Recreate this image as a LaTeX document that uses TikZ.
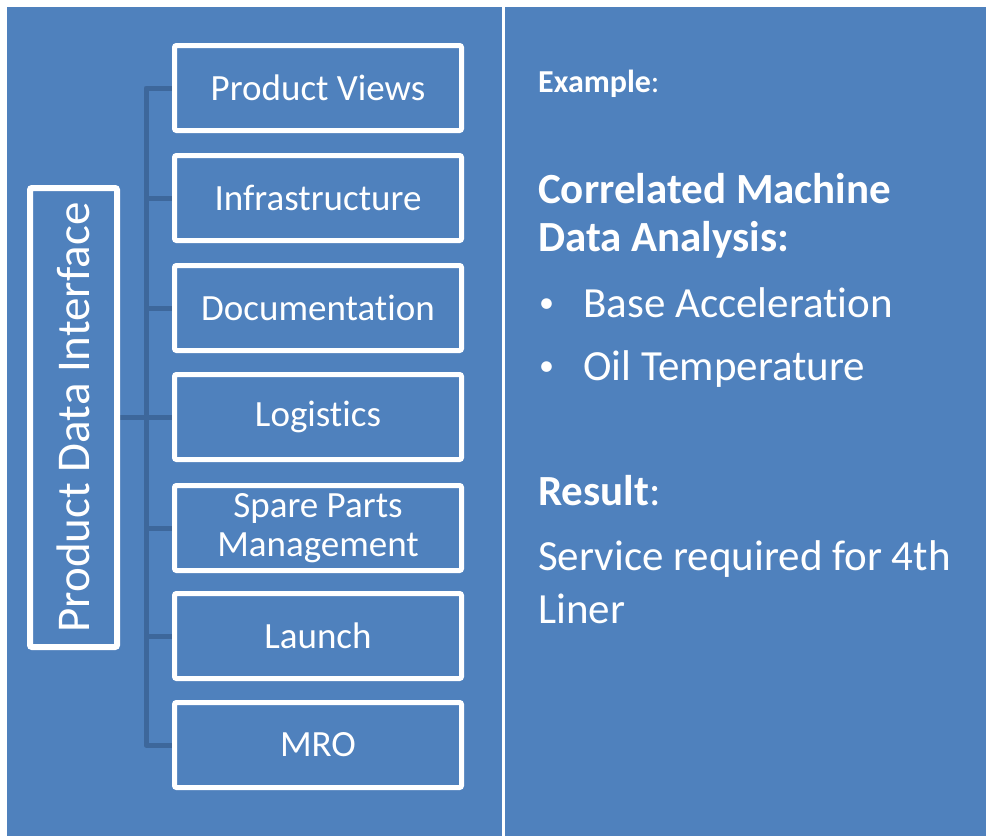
\documentclass[tikz,border=0pt]{standalone}
\usepackage{fontspec}
\setmainfont{Carlito}[RawFeature=-liga]
\pgfdeclarelayer{back}
\pgfdeclarelayer{bg}
\pgfsetlayers{back,bg,main}
\definecolor{panel}{HTML}{4F81BD}
\definecolor{connc}{HTML}{3D679B}
\tikzset{
  box/.style={draw=white, line width=5pt, fill=panel, rounded corners=2pt,
    minimum width=287pt, minimum height=85pt, inner sep=0pt, text=white,
    font=\fontsize{37}{39}\selectfont, align=center},
  pdibox/.style={draw=white, line width=6pt, fill=panel, rounded corners=2pt,
    minimum width=87pt, minimum height=459pt, inner sep=0pt, text=white},
  conn/.style={draw=connc, line width=5pt, line join=round},
  rtext/.style={anchor=base west, inner sep=0pt, text=white, font=\fontsize{43}{52}\selectfont},
}
\begin{document}
\begin{tikzpicture}[x=1pt,y=-1pt]
\useasboundingbox (0,0) rectangle (986,836);
\begin{pgfonlayer}{back}
\fill[white] (0,0) rectangle (986,836);
\fill[panel] (7,7) rectangle (502,836);
\fill[panel] (505,7) rectangle (986,836);
\end{pgfonlayer}
% left side
\node[pdibox] (pdi) at (73.5,417.5) {};
\node[rotate=90, text=white, inner sep=0pt, font=\fontsize{47}{50}\selectfont] (pdit) at (pdi.center) {Product Data Interface};
\node[box] (b1) at (318,88) {Product Views};
\node[box] (b2) at (318,198) {Infrastructure};
\node[box] (b3) at (318,308) {Documentation};
\node[box] (b4) at (318,417) {Logistics};
\node[box] (b5) at (318,528) {Spare Parts\\Management};
\node[box] (b6) at (318,636) {Launch};
\node[box] (b7) at (318,745) {MRO};
\coordinate (tt) at (146,88);
\coordinate (tb) at (146,745);
\begin{pgfonlayer}{bg}
\draw[conn] (b1.west) -- (tt) -- (tb) -- (b7.west);
\draw[conn] (pdi.east) -- (pdi.east -| tt);
\foreach \b in {b2,b3,b4,b5,b6}{
  \draw[conn] (tt |- \b.west) -- (\b.west);
}
\end{pgfonlayer}
% right side
\node[rtext, font=\fontsize{32}{38}\selectfont] (ex) at (538,92) {\textbf{Example}:};
\node[rtext] (c1) at (538,203) {\textbf{Correlated Machine}};
\node[rtext] (c2) at (538,251) {\textbf{Data Analysis:}};
\node[rtext, font=\fontsize{30}{36}\selectfont] (u1) at (539,312) {•};
\node[rtext] (l1) at (583,317) {Base Acceleration};
\node[rtext, font=\fontsize{30}{36}\selectfont] (u2) at (539,375) {•};
\node[rtext] (l2) at (583,380) {Oil Temperature};
\node[rtext] (r1) at (538,505) {\textbf{Result}:};
\node[rtext] (s1) at (538,570) {Service required for 4th};
\node[rtext] (s2) at (538,623) {Liner};
\end{tikzpicture}
\end{document}
